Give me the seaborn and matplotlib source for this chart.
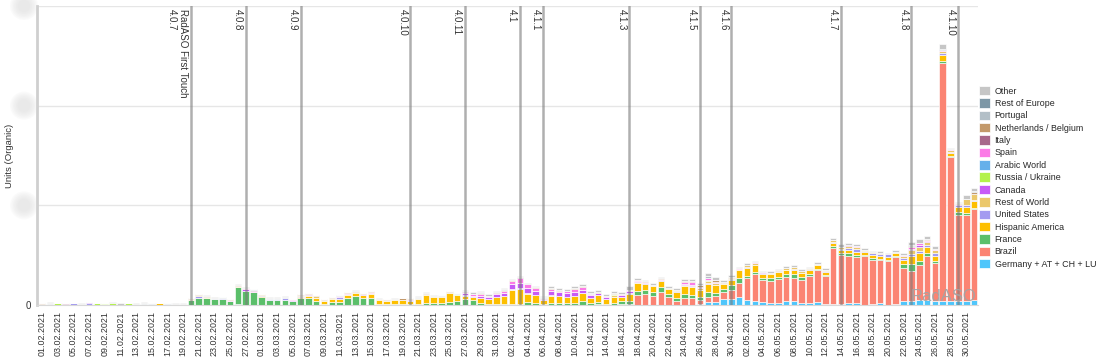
import numpy as np
import pandas as pd
import matplotlib
matplotlib.use("Agg")
import matplotlib.pyplot as plt
from matplotlib.patches import Patch, Ellipse
import seaborn as sns

# --- data (units per day, 01.02.2021 - 31.05.2021) ---
dates = pd.date_range("2021-02-01", "2021-05-31", freq="D")

germany = [0]*20 + [0,0,0,0,0,1,0,0,0,0] + [0]*40 + \
    [0,1,0,0,0,0,0,0,0,0, 0,0,0,0,1,3,3,6,6,8, 5,4,3,2,2,4,4,2,2,3,
     1,1,1,2,2,0,1,2,0,1, 4,4,5,5,4,4,4,4,4,5]
brazil = [0]*70 + \
    [0,0,0,0,1,1,10,11,9,13, 8,4,7,7,4,5,6,7,9,14, 22,27,22,22,24,24,23,23,27,32,
     28,56,49,47,46,49,44,43,44,47, 33,30,35,44,38,239,144,86,86,91]
france = [0,0,0,0,0,0,0,0,0,0, 0,0,0,0,0,0,0,0,0,5,
          7,7,6,6,4,17,14,13,8,5, 5,5,4,7,7,4,1,3,3,7,
          9,7,7,1,1,1,1,1,1,2, 2,2,3,4,6,5,2,1,1,1,
          1,1,3,2,1,2,2,2,2,4, 2,2,1,2,3,3,4,4,4,5,
          3,3,4,3,3,5,3,3,5,5, 2,2,2,3,2,3,4,3,2,1,
          1,2,2,3,2,1,2,1,1,1, 4,7,4,3,2,2,2,3,2,1]
hispanic = [1,0,0,0,0,0,0,0,0,0, 0,0,0,0,0,2,0,0,0,0,
            0,0,0,0,0,0,0,0,1,0, 0,0,0,1,2,3,3,3,3,3,
            3,3,4,4,3,4,4,3,5,8, 6,6,9,6,3,3,5,5,7,8,
            14,15,8,8,4,7,7,6,7,8, 5,7,5,6,4,7,8,6,6,6,
            5,6,8,8,7,8,8,5,5,8, 8,7,4,4,5,4,4,4,4,4,
            3,3,3,3,3,3,3,3,3,3, 4,8,8,6,5,6,3,5,6,7]
united_states = [0,0,0,0,2,0,2,0,0,0, 0,0,0,0,0,0,1,0,0,0,
                 2,0,0,1,0,0,0,0,1,1, 1,2,0,1,0,0,0,0,2,0,
                 0,0,0,0,0,0,0,1,0,0, 0,0,0,0,1,0,0,0,0,0,
                 0,1,0,0,0,0,0,0,0,0, 0,0,0,0,0,1,0,1,0,1,
                 0,1,0,0,0,1,0,0,1,0, 1,0,1,0,0,0,1,0,1,0,
                 1,1,1,2,3,1,2,2,3,0, 2,2,2,2,3,2,1,2,2,1]
rest_of_world = [0,0,0,0,0,0,0,0,1,0, 0,0,0,0,0,0,0,0,0,1,
                 1,1,0,0,0,1,0,0,1,0, 0,0,0,1,1,2,1,1,0,1,
                 1,0,1,1,1,1,0,0,1,1, 1,1,1,0,0,0,0,0,0,0,
                 1,0,1,0,0,1,0,0,0,0, 0,0,0,2,0,0,1,0,1,0,
                 1,1,1,1,2,2,2,1,1,1, 2,2,0,1,1,2,2,2,1,1,
                 1,2,2,2,2,1,1,1,0,1, 2,4,4,3,3,2,2,0,6,6]
canada = [0,0,0,0,0,0,1,0,0,0, 0,0,0,0,0,0,0,0,0,0,
          0,0,0,0,0,0,2,0,0,0, 0,0,1,0,1,0,0,0,0,0,
          0,1,0,0,0,0,0,1,0,0, 0,0,0,0,2,1,2,2,3,3,
          5,5,5,4,1,4,4,4,4,3, 3,2,2,0,2,2,1,0,0,0,
          0,0,1,1,0,0,0,0,0,0, 0,0,1,0,0,0,0,0,0,0,
          0,0,0,1,0,0,0,0,0,0, 0,1,2,1,0,0,0,1,0,0]
russia = [0,1,2,0,0,0,0,2,1,2, 0,2,0,1,0,0,0,0,0,0] + [0]*30 + \
    [0,0,0,1,0,0,0,0,0,0] + [0]*10 + [0,0,0,1,0,0,0,0,0,0] + \
    [0,0,0,0,0,1,0,0,0,0] + [0]*30
arabic = [0]*10 + [0,0,0,0,1,0,0,0,0,0] + [0]*100
spain = [0,0,0,1,0,0,0,0,0,0, 0,0,0,0,0,0,0,0,0,0,
         0,0,0,0,1,0,1,1,0,0, 0,0,1,0,0,0,0,0,1,1,
         0,0,1,0,0,0,0,0,0,0, 0,0,0,0,1,2,2,1,1,2,
         3,5,4,3,0,2,1,2,3,3, 1,0,1,0,1,1,1,1,0,1,
         0,0,2,3,1,2,1,0,0,1, 0,1,0,0,0,0,0,0,0,0,
         0,0,0,0,1,0,0,0,0,0, 1,2,2,1,1,1,1,0,0,0]
italy = [0,0,0,1,0,0,0,0,0,0] + [0]*10 + [0,0,0,0,0,0,0,1,0,0] + [0]*20 + \
    [0,0,0,0,1,0,0,0,0,0] + [0,1,0,0,1,0,0,0,0,0] + [0]*50
netherlands = [1,0,0,0,0,0,0,0,0,0, 0,0,0,0,0,0,0,0,0,1,
               1,1,0,0,1,1,0,0,0,0, 0,0,0,1,1,1,1,1,0,1,
               1,1,1,0,1,0,2,1,0,1, 0,0,1,0,0,0,1,0,1,1,
               1,0,0,1,0,1,1,0,1,1, 0,1,0,1,0,0,0,1,0,1,
               0,0,1,1,2,0,2,1,1,0, 0,0,0,0,1,0,0,0,0,0,
               0,0,0,0,0,0,0,0,0,0, 0,1,0,1,0,0,0,1,0,2]
portugal = [0,1,0,0,0,1,0,0,0,0, 0,0,1,1,1,0,1,1,1,0,
            0,0,1,1,0,0,0,1,0,1, 1,1,0,0,0,0,0,0,1,0,
            0,0,0,0,0,0,0,0,1,0, 0,1,0,1,0,0,1,0,0,1,
            0,0,0,0,1,0,0,0,0,0, 1,0,0,0,0,0,0,0,0,0,
            0,0,0,0,0,2,0,0,0,0] + [0]*30
rest_of_europe = [0]*111 + [1,0,0,0,1,0,0,0,1]
other = [0,1,0,0,0,1,0,0,0,1, 2,0,1,1,0,0,0,1,1,0,
         0,1,1,0,0,1,1,0,0,1, 1,1,0,0,0,0,0,0,0,0,
         1,0,0,1,0,1,0,0,1,1, 1,0,0,0,1,2,1,2,1,1,
         1,1,1,1,1,2,2,2,2,2, 2,2,2,2,2,4,2,1,2,1,
         2,2,2,2,2,3,3,2,2,1, 2,1,1,2,1,2,2,2,1,2,
         2,2,3,2,2,2,1,2,1,2, 2,3,4,3,3,5,1,1,4,3]

# legend order (top -> bottom); stack is drawn in reverse (Germany at bottom)
regions = ["Other", "Rest of Europe", "Portugal", "Netherlands / Belgium", "Italy",
           "Spain", "Arabic World", "Russia / Ukraine", "Canada", "Rest of World",
           "United States", "Hispanic America", "France", "Brazil", "Germany + AT + CH + LU"]
series = [other, rest_of_europe, portugal, netherlands, italy, spain, arabic, russia,
          canada, rest_of_world, united_states, hispanic, france, brazil, germany]
colors = ["#c6c6c6", "#7d97a6", "#b3bfc7", "#c3996b", "#a8688b", "#fb7be6", "#66b0ea",
          "#b3f24b", "#c75bf6", "#ebc86b", "#a49bf0", "#fdbf00", "#5bbf6a", "#fb8473",
          "#4fc6fb"]

releases = ["2021-02-20", "2021-02-27", "2021-03-06", "2021-03-20", "2021-03-27",
            "2021-04-03", "2021-04-06", "2021-04-17", "2021-04-26", "2021-04-30",
            "2021-05-14", "2021-05-23", "2021-05-29"]
release_labels = ["RadASO First Touch\n4.0.7", "4.0.8", "4.0.9", "4.0.10", "4.0.11",
                  "4.1", "4.1.1", "4.1.3", "4.1.5", "4.1.6", "4.1.7", "4.1.8", "4.1.10"]

# long table for seaborn
day_idx = np.arange(len(dates))
rows = []
for name, vals in zip(regions, series):
    for d, v in zip(day_idx, vals):
        rows.append((d, name, v))
df = pd.DataFrame(rows, columns=["day", "region", "units"])

sns.set_style("white")
plt.rcParams["font.family"] = ["Liberation Sans", "DejaVu Sans"]

fig = plt.figure(figsize=(11, 3.57), dpi=100)
ax = fig.add_axes([37/1100, 52/357, 941/1100, 299/357])

sns.histplot(data=df, x="day", weights="units", hue="region", hue_order=regions,
             palette=dict(zip(regions, colors)), multiple="stack", discrete=True,
             shrink=0.84, edgecolor="white", linewidth=0.45, alpha=1, legend=False, ax=ax)

ax.set_xlim(-0.65, 119.5)
ax.set_ylim(0, 300)
ax.set_yticks([0, 100, 200, 300])
ax.set_yticklabels(["0", "", "", ""])
ax.yaxis.grid(True, color="#e6e6e6", linewidth=1)
ax.set_axisbelow(True)
ax.set_xticks(day_idx[::2])
ax.set_xticklabels(dates[::2].strftime("%d.%m.%Y"), rotation=90, fontsize=6.4, color="#333333")
ax.tick_params(axis="x", length=3, color="#aaaaaa", pad=1.5)
ax.tick_params(axis="y", length=3, color="#aaaaaa", labelsize=7, pad=1, labelcolor="#333333")
for s in ["top", "right"]:
    ax.spines[s].set_visible(False)
ax.spines["left"].set_color("#cfcfcf")
ax.spines["left"].set_linewidth(2)
ax.spines["bottom"].set_color("#d8d8d8")
ax.set_xlabel("")
ax.set_ylabel("Units (Organic)", fontsize=6.8, color="#333333")
ax.yaxis.set_label_coords(-0.0245, 0.5)

# release markers
for rd, lab in zip(releases, release_labels):
    xi = (pd.Timestamp(rd) - dates[0]).days
    ax.axvline(xi, color="#7a7a7a", alpha=0.6, linewidth=1.8, zorder=5)
    ax.annotate(lab, xy=(xi, 300), xytext=(-2, -2), textcoords="offset points",
                rotation=-90, ha="right", va="top", multialignment="left",
                fontsize=7, color="#333333", zorder=6)

ax.text(0.998, 0.004, "RadASO", transform=ax.transAxes, ha="right", va="bottom",
        fontsize=12, color="#a4a4a4", alpha=0.95, zorder=7)

# blurred axis values
for yv in [100, 200, 300]:
    ypx = 305 - yv * 299 / 300
    for k in range(6):
        e = Ellipse((24/100, (357 - ypx)/100), (28 - 3*k)/100, (28 - 3*k)/100,
                    transform=fig.dpi_scale_trans, facecolor="#d9d9d9", edgecolor="none",
                    alpha=0.11)
        fig.patches.append(e)

handles = [Patch(facecolor=c, edgecolor="white", linewidth=0.5) for c in colors]
fig.legend(handles, regions, loc="upper left", bbox_to_anchor=(979/1100, 1 - 86/357),
           frameon=False, fontsize=6.4, handlelength=1.25, handleheight=1.25,
           handletextpad=0.5, labelspacing=0.3, borderpad=0, borderaxespad=0)

fig.savefig("out.png", dpi=100)
